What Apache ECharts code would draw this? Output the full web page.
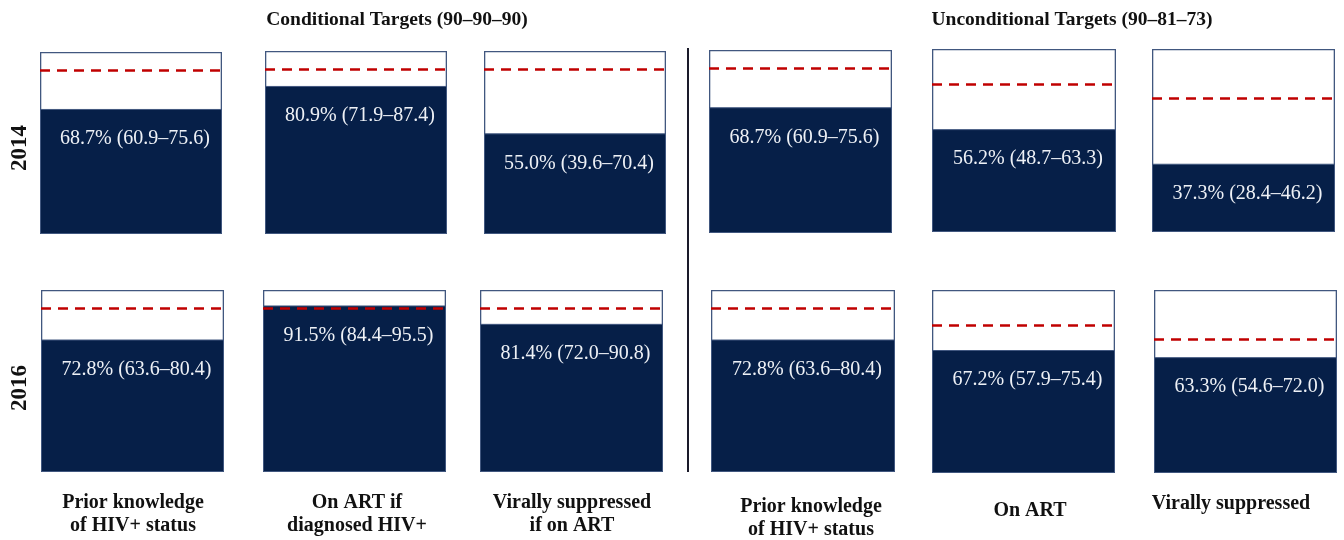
<!DOCTYPE html>
<html>
<head>
<meta charset="utf-8">
<script src="https://cdn.jsdelivr.net/npm/echarts@6/dist/echarts.min.js"></script>
<style>
html,body{margin:0;padding:0;background:#fff;}
#c{width:1344px;height:540px;}
</style>
</head>
<body>
<div id="c"></div>
<script>
// ---- data ----
const categories = ['Prior knowledge\nof HIV+ status', 'On ART if\ndiagnosed HIV+', 'Virally suppressed\nif on ART',
                    'Prior knowledge\nof HIV+ status', 'On ART', 'Virally suppressed'];
const years = ['2014', '2016'];
const targets = [90, 90, 90, 90, 81, 73];
const values2014 = [68.7, 80.9, 55.0, 68.7, 56.2, 37.3];
const lower2014  = ['60.9', '71.9', '39.6', '60.9', '48.7', '28.4'];
const upper2014  = ['75.6', '87.4', '70.4', '75.6', '63.3', '46.2'];
const values2016 = [72.8, 91.5, 81.4, 72.8, 67.2, 63.3];
const lower2016  = ['63.6', '84.4', '72.0', '63.6', '57.9', '54.6'];
const upper2016  = ['80.4', '95.5', '90.8', '80.4', '75.4', '72.0'];
const groupTitles = ['Conditional Targets (90\u201390\u201390)', 'Unconditional Targets (90\u201381\u201373)'];

// ---- layout ----
const boxes = [
  [[40,52,182,182],[265,51,182,183],[484,51,182,183],[709,50,183,183],[932,49,184,183],[1152,49,183,183]],
  [[41,290,183,182],[263,290,183,182],[480,290,183,182],[711,290,184,182],[932,290,183,183],[1154,290,183,183]]
];
const catLabelX = [133, 357, 572, 811, 1030, 1231];
const catLabelY = [514, 514, 514, 518, 511, 504];

const NAVY = '#061f48';
const SERIF = '"Liberation Serif","DejaVu Serif",serif';

const grids = [], xAxes = [], yAxes = [], series = [];
const rows = [
  {v: values2014, lo: lower2014, hi: upper2014},
  {v: values2016, lo: lower2016, hi: upper2016}
];
let gi = 0;
rows.forEach((r, ri) => {
  for (let c = 0; c < 6; c++) {
    const b = boxes[ri][c];
    grids.push({left: b[0], top: b[1], width: b[2], height: b[3]});
    xAxes.push({type: 'category', gridIndex: gi, data: [categories[c]], show: false});
    yAxes.push({type: 'value', gridIndex: gi, min: 0, max: 100, show: false});
    series.push({
      type: 'bar', xAxisIndex: gi, yAxisIndex: gi, data: [100],
      barWidth: '100%', barGap: '-100%', silent: true, z: 1,
      itemStyle: {color: '#ffffff', borderColor: '#41577f', borderWidth: 1.3}
    });
    series.push({
      type: 'bar', xAxisIndex: gi, yAxisIndex: gi, data: [r.v[c]],
      barWidth: '100%', barGap: '-100%', silent: true, z: 2,
      itemStyle: {color: NAVY, borderColor: '#41577f', borderWidth: 1},
      label: {
        show: true, position: 'insideTop', distance: 20, offset: [4, 0],
        formatter: r.v[c].toFixed(1) + '% (' + r.lo[c] + '\u2013' + r.hi[c] + ')',
        color: '#eef1f6', fontFamily: SERIF, fontSize: 20
      },
      markLine: {
        silent: true, symbol: 'none', label: {show: false},
        lineStyle: {color: '#c00000', width: 2.7, type: [10, 7]},
        data: [{yAxis: targets[c]}]
      }
    });
    gi++;
  }
});

const graphics = [
  {type: 'text', x: 397, y: 20, style: {text: groupTitles[0], font: 'bold 19.5px ' + SERIF, fill: '#111', align: 'center', verticalAlign: 'middle'}},
  {type: 'text', x: 1072, y: 20, style: {text: groupTitles[1], font: 'bold 19.5px ' + SERIF, fill: '#111', align: 'center', verticalAlign: 'middle'}},
  {type: 'line', shape: {x1: 688, y1: 48, x2: 688, y2: 472}, style: {stroke: '#1a1a2a', lineWidth: 2}},
  {type: 'text', x: 20, y: 148, rotation: Math.PI / 2, style: {text: years[0], font: 'bold 23px ' + SERIF, fill: '#111', align: 'center', verticalAlign: 'middle'}},
  {type: 'text', x: 20, y: 388, rotation: Math.PI / 2, style: {text: years[1], font: 'bold 23px ' + SERIF, fill: '#111', align: 'center', verticalAlign: 'middle'}}
];
categories.forEach((t, i) => {
  graphics.push({type: 'text', x: catLabelX[i], y: catLabelY[i],
    style: {text: t, font: 'bold 20px ' + SERIF, fill: '#111', align: 'center', verticalAlign: 'middle', lineHeight: 23}});
});

const chart = echarts.init(document.getElementById('c'), null, {renderer: 'canvas'});
chart.setOption({
  animation: false,
  backgroundColor: '#ffffff',
  grid: grids, xAxis: xAxes, yAxis: yAxes, series: series,
  graphic: graphics
});
</script>
</body>
</html>
